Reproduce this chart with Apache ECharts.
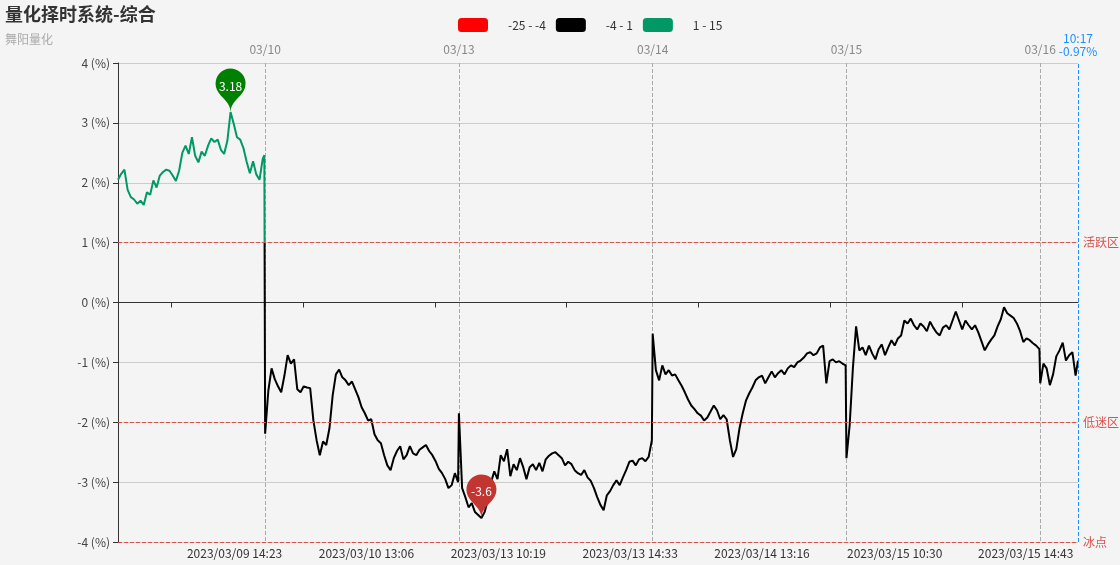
<!DOCTYPE html>
<html>
<head>
<meta charset="utf-8">
<title>量化择时系统-综合</title>
<script src="https://cdn.jsdelivr.net/npm/echarts@6/dist/echarts.min.js"></script>
<style>
  html, body { margin: 0; padding: 0; background: #f4f4f4; }
  #main { width: 1120px; height: 565px; }
</style>
</head>
<body>
<div id="main"></div>
<script>
// trading days in the window, first and last minute shown
const days = ['2023/03/09', '2023/03/10', '2023/03/13', '2023/03/14', '2023/03/15', '2023/03/16']
const firstMinute = '10:28'
const lastMinute = '10:17'

// index value (%) read every 4 minutes; the last entry of a day sits on its final minute
const v0309 = [2.05, 2.15, 2.22, 1.88, 1.76, 1.72, 1.65, 1.70, 1.63, 1.84,
  1.80, 2.04, 1.92, 2.12, 2.18, 2.22, 2.20, 2.12, 2.03, 2.20,
  2.50, 2.62, 2.48, 2.76, 2.45, 2.34, 2.52, 2.45, 2.62, 2.74,
  2.68, 2.72, 2.55, 2.48, 2.70, 3.18, 2.98, 2.76, 2.72, 2.58,
  2.35, 2.16, 2.36, 2.14, 2.05, 2.40, 2.46]
const v0310 = [-2.19, -1.47, -1.10, -1.28, -1.40, -1.50, -1.22, -0.88, -1.02, -0.95,
  -1.45, -1.50, -1.40, -1.42, -1.43, -1.97, -2.30, -2.55, -2.32, -2.38,
  -2.10, -1.55, -1.20, -1.12, -1.25, -1.30, -1.38, -1.32, -1.45, -1.58,
  -1.75, -1.85, -1.97, -1.95, -2.20, -2.30, -2.35, -2.55, -2.72, -2.80,
  -2.60, -2.48, -2.40, -2.62, -2.55, -2.40, -2.52, -2.55, -2.46, -2.42,
  -2.38, -2.48, -2.55, -2.65, -2.78, -2.85, -2.95, -3.10, -3.05, -2.85,
  -3.00]
const v0313 = [-1.85, -3.10, -3.25, -3.42, -3.35, -3.50, -3.55, -3.60, -3.50, -3.30,
  -3.00, -2.82, -2.95, -2.55, -2.65, -2.45, -2.90, -2.70, -2.80, -2.60,
  -2.75, -2.95, -2.75, -2.70, -2.80, -2.68, -2.82, -2.62, -2.56, -2.52,
  -2.50, -2.55, -2.60, -2.72, -2.66, -2.70, -2.80, -2.85, -2.88, -2.80,
  -2.92, -2.98, -3.10, -3.25, -3.38, -3.47, -3.22, -3.15, -3.05, -2.97,
  -3.05, -2.92, -2.80, -2.66, -2.64, -2.72, -2.62, -2.60, -2.65, -2.58,
  -2.30]
const v0314 = [-0.52, -1.13, -1.30, -1.05, -1.20, -1.13, -1.22, -1.20, -1.30, -1.39,
  -1.50, -1.62, -1.72, -1.78, -1.85, -1.89, -1.97, -1.92, -1.82, -1.72,
  -1.80, -1.95, -1.88, -1.95, -2.30, -2.58, -2.45, -2.10, -1.85, -1.64,
  -1.52, -1.42, -1.30, -1.25, -1.22, -1.35, -1.25, -1.15, -1.25, -1.18,
  -1.13, -1.20, -1.10, -1.05, -1.08, -1.00, -0.97, -0.92, -0.85, -0.83,
  -0.88, -0.85, -0.75, -0.72, -1.35, -0.98, -0.95, -1.00, -0.98, -1.02,
  -1.05]
const v0315 = [-2.60, -2.05, -1.10, -0.40, -0.80, -0.75, -0.88, -0.72, -0.85, -0.95,
  -0.78, -0.70, -0.88, -0.75, -0.63, -0.72, -0.60, -0.55, -0.30, -0.35,
  -0.27, -0.38, -0.45, -0.35, -0.40, -0.48, -0.32, -0.42, -0.50, -0.55,
  -0.42, -0.38, -0.45, -0.30, -0.15, -0.30, -0.45, -0.30, -0.38, -0.45,
  -0.38, -0.50, -0.65, -0.80, -0.70, -0.62, -0.55, -0.40, -0.28, -0.08,
  -0.18, -0.22, -0.26, -0.35, -0.48, -0.66, -0.60, -0.63, -0.68, -0.72,
  -0.78]
const v0316 = [-1.35, -1.02, -1.10, -1.38, -1.20, -0.90, -0.80, -0.67, -0.97, -0.88,
  -0.83, -1.22, -0.97]
const step = 4

// labels on the bottom axis
const bottomLabels = ['2023/03/09 14:23', '2023/03/10 13:06', '2023/03/13 10:19', '2023/03/13 14:33',
  '2023/03/14 13:16', '2023/03/15 10:30', '2023/03/15 14:43']

// zone lines
const zoneNames = ['活跃区', '低迷区', '冰点']
const zoneValues = [1, -2, -4]

function sessionMinutes() {
  const pad = n => (n < 10 ? '0' : '') + n
  const list = []
  for (let m = 9 * 60 + 30; m <= 11 * 60 + 30; m++) list.push(pad(Math.floor(m / 60)) + ':' + pad(m % 60))
  for (let m = 13 * 60 + 1; m <= 15 * 60; m++) list.push(pad(Math.floor(m / 60)) + ':' + pad(m % 60))
  return list
}

const dayValues = [v0309, v0310, v0313, v0314, v0315, v0316]
const categories = []
const lineData = []
days.forEach((d, di) => {
  let mins = sessionMinutes()
  if (di === 0) mins = mins.slice(mins.indexOf(firstMinute))
  if (di === days.length - 1) mins = mins.slice(0, mins.indexOf(lastMinute) + 1)
  const base = categories.length
  mins.forEach(t => categories.push(d + ' ' + t))
  dayValues[di].forEach((v, k) => {
    lineData.push([base + Math.min(k * step, mins.length - 1), v])
  })
})

const lastCat = categories[categories.length - 1]
const lastVal = lineData[lineData.length - 1][1]
const isDayStart = (i, v) => i > 0 && v.slice(11) === '09:30'
const gridRect = { left: 118, right: 42, top: 63, bottom: 23, outerBoundsMode: 'none' }

const chart = echarts.init(document.getElementById('main'))
chart.setOption({
  backgroundColor: '#f4f4f4',
  textStyle: { fontFamily: 'Noto Sans CJK SC' },
  animation: false,
  title: {
    text: '量化择时系统-综合',
    subtext: '舞阳量化',
    left: 0,
    top: 0,
    textStyle: { fontSize: 18, fontWeight: 'bold', color: '#333' },
    subtextStyle: { fontSize: 12, color: '#aaa' }
  },
  visualMap: {
    type: 'piecewise',
    orient: 'horizontal',
    left: 443,
    top: 3,
    seriesIndex: 0,
    dimension: 1,
    itemWidth: 30,
    itemHeight: 14,
    textGap: 20,
    itemGap: 10,
    textStyle: { color: '#333', fontSize: 12 },
    pieces: [
      { min: -25, max: -4, color: '#ff0000' },
      { min: -4, max: 1, color: '#000000' },
      { min: 1, max: 15, color: '#009966' }
    ]
  },
  // second grid on the same rect only carries the bottom time labels
  grid: [gridRect, Object.assign({}, gridRect)],
  xAxis: [{
    type: 'category',
    data: categories,
    boundaryGap: false,
    axisLine: { onZero: true, lineStyle: { color: '#333' } },
    axisTick: { interval: i => i % 164 === 66, lineStyle: { color: '#333' } },
    axisLabel: { show: false },
    splitLine: { show: false }
  }, {
    type: 'category',
    position: 'top',
    data: categories,
    boundaryGap: false,
    axisLine: { show: false },
    axisTick: { show: false },
    axisLabel: { interval: isDayStart, formatter: v => v.slice(5, 10), color: '#888', fontSize: 12 },
    splitLine: { show: true, interval: isDayStart, lineStyle: { type: 'dashed', color: '#aaa' } }
  }, {
    type: 'category',
    gridIndex: 1,
    position: 'bottom',
    data: categories,
    boundaryGap: false,
    axisLine: { show: false, onZero: false },
    axisTick: { show: false },
    axisLabel: { interval: (i, v) => bottomLabels.includes(v), margin: 5, color: '#333', fontSize: 12 },
    splitLine: { show: false }
  }],
  yAxis: [{
    type: 'value',
    min: -4,
    max: 4,
    interval: 1,
    axisLine: { show: true, lineStyle: { color: '#333' } },
    axisTick: { show: true },
    axisLabel: { formatter: '{value} (%)', color: '#444', fontSize: 12 },
    splitLine: { lineStyle: { color: '#ccc' } }
  }, {
    type: 'value',
    gridIndex: 1,
    min: -4,
    max: 4,
    show: false
  }],
  series: [{
    type: 'line',
    data: lineData,
    showSymbol: false,
    lineStyle: { width: 2 },
    markPoint: {
      label: { color: '#fff', fontSize: 12 },
      data: [
        { type: 'max', itemStyle: { color: '#008000' } },
        { type: 'min', itemStyle: { color: '#c23531' } }
      ]
    },
    markLine: {
      symbol: 'none',
      silent: true,
      lineStyle: { type: 'dashed', color: '#d9534f', width: 1 },
      label: { position: 'end', formatter: '{b}', color: '#d9534f', fontSize: 12 },
      data: zoneValues.map((v, i) => ({ name: zoneNames[i], yAxis: v })).concat([{
        xAxis: lastCat,
        lineStyle: { color: '#1e90ff', type: 'dashed' },
        label: {
          position: 'end',
          formatter: lastCat.slice(11) + '\n' + lastVal.toFixed(2) + '%',
          color: '#1e90ff',
          lineHeight: 13
        }
      }])
    }
  }]
})
</script>
</body>
</html>
